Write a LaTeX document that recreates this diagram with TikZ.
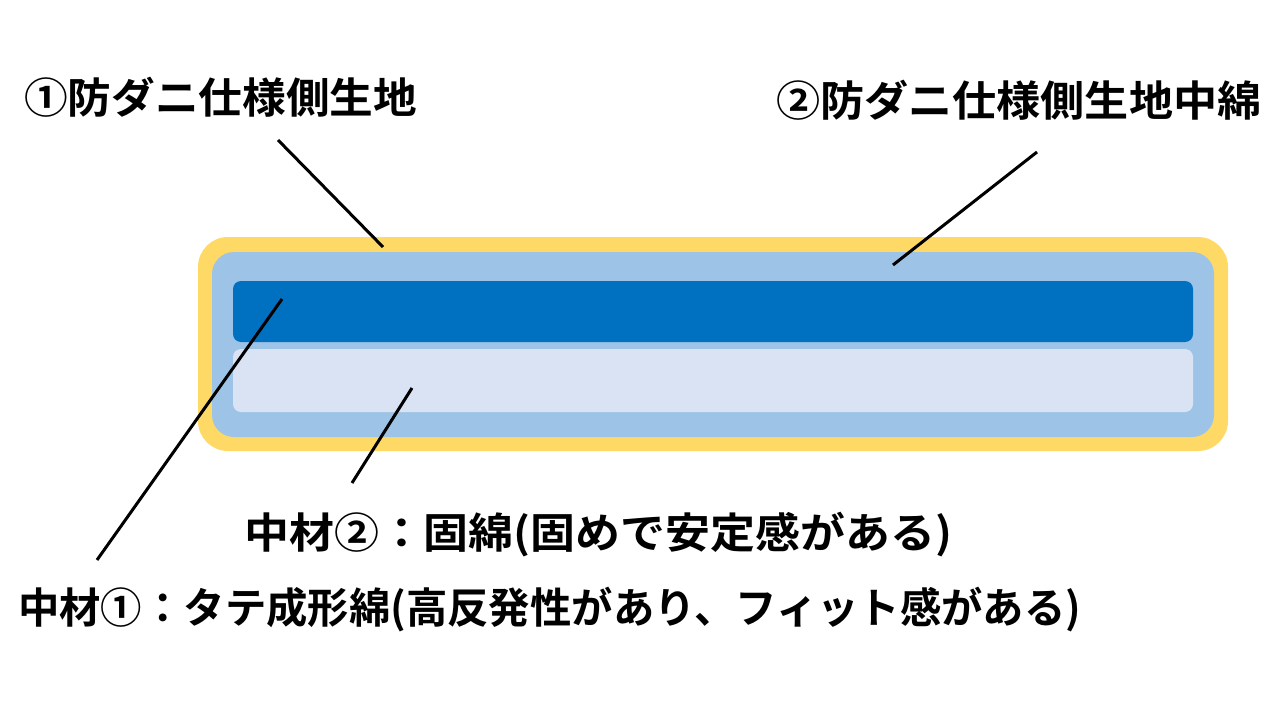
\documentclass[tikz,border=0pt]{standalone}
\usepackage{fontspec}
\newfontfamily\cjk{Noto Sans CJK JP Bold}
\definecolor{yel}{HTML}{FFD966}
\definecolor{lb}{HTML}{9DC3E6}
\definecolor{db}{HTML}{0070C0}
\definecolor{pb}{HTML}{DAE3F3}
\tikzset{lbl/.style={anchor=west,inner sep=0pt,font=\cjk\fontsize{42}{44}\selectfont},
 ln/.style={line width=3pt,black}}
\begin{document}
\begin{tikzpicture}[x=1pt,y=-1pt]
\useasboundingbox (0,0) rectangle (1280,723);
\fill[yel,rounded corners=30pt] (198,237) rectangle (1228,451);
\fill[lb,rounded corners=22pt] (212,252) rectangle (1214,437);
\fill[db,rounded corners=8pt] (233,281) rectangle (1193,342);
\fill[pb,rounded corners=8pt] (233,349) rectangle (1193,412);
\coordinate (a1) at (278,140); \coordinate (a2) at (383,247);
\coordinate (b1) at (1037,152); \coordinate (b2) at (893,265);
\coordinate (c1) at (282,299); \coordinate (c2) at (97,560);
\coordinate (d1) at (412,388); \coordinate (d2) at (352,483);
\draw[ln] (a1)--(a2); \draw[ln] (b1)--(b2); \draw[ln] (c1)--(c2); \draw[ln] (d1)--(d2);
\node[lbl,xscale=1.04] (t1) at (24,97) {①防ダニ仕様側生地};
\node[lbl,xscale=1.05] (t2) at (776,100) {②防ダニ仕様側生地中綿};
\node[lbl,xscale=1.07] (t3) at (244,535) {中材②：固綿(固めで安定感がある)};
\node[lbl,xscale=0.985] (t4) at (18,610) {中材①：タテ成形綿(高反発性があり、フィット感がある)};
\end{tikzpicture}
\end{document}
